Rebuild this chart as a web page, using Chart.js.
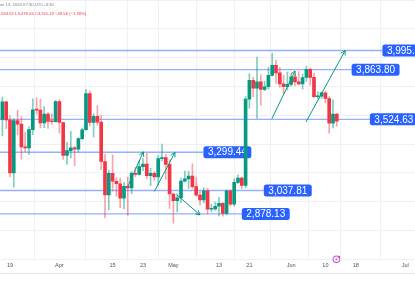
<!DOCTYPE html>
<html>
<head>
<meta charset="utf-8">
<script src="https://cdn.jsdelivr.net/npm/chart.js"></script>
<style>
  html, body { margin: 0; padding: 0; background: #fff; }
  #wrap { width: 415px; height: 285px; position: relative; }
</style>
</head>
<body>
<div id="wrap"><canvas id="ethChart"></canvas></div>
<script>
// daily candles, Mar 17 - Jun 13 2024
const dates = [
  '2024-03-17','2024-03-18','2024-03-19','2024-03-20','2024-03-21','2024-03-22','2024-03-23','2024-03-24','2024-03-25','2024-03-26',
  '2024-03-27','2024-03-28','2024-03-29','2024-03-30','2024-03-31','2024-04-01','2024-04-02','2024-04-03','2024-04-04','2024-04-05',
  '2024-04-06','2024-04-07','2024-04-08','2024-04-09','2024-04-10','2024-04-11','2024-04-12','2024-04-13','2024-04-14','2024-04-15',
  '2024-04-16','2024-04-17','2024-04-18','2024-04-19','2024-04-20','2024-04-21','2024-04-22','2024-04-23','2024-04-24','2024-04-25',
  '2024-04-26','2024-04-27','2024-04-28','2024-04-29','2024-04-30','2024-05-01','2024-05-02','2024-05-03','2024-05-04','2024-05-05',
  '2024-05-06','2024-05-07','2024-05-08','2024-05-09','2024-05-10','2024-05-11','2024-05-12','2024-05-13','2024-05-14','2024-05-15',
  '2024-05-16','2024-05-17','2024-05-18','2024-05-19','2024-05-20','2024-05-21','2024-05-22','2024-05-23','2024-05-24','2024-05-25',
  '2024-05-26','2024-05-27','2024-05-28','2024-05-29','2024-05-30','2024-05-31','2024-06-01','2024-06-02','2024-06-03','2024-06-04',
  '2024-06-05','2024-06-06','2024-06-07','2024-06-08','2024-06-09','2024-06-10','2024-06-11','2024-06-12','2024-06-13'
];
const opens = [
  3523,3644,3520,3158,3516,3492,3336,3329,3454,3590, 3587,3500,3561,3510,3508,3646,3503,3278,3311,3330,
  3320,3393,3453,3700,3503,3545,3505,3236,3008,3156, 3101,3084,2985,3066,3056,3155,3147,3201,3219,3140,
  3156,3131,3256,3263,3216,3014,2969,2988,3102,3117, 3137,3064,3006,2973,3036,2910,2912,2930,2950,2881,
  3035,2945,3094,3123,3072,3663,3791,3737,3780,3728, 3747,3825,3893,3842,3767,3747,3763,3815,3780,3767,
  3810,3866,3811,3679,3683,3706,3667,3498,3560.75
];
const highs = [
  3677,3645,3550,3530,3588,3543,3434,3474,3665,3673, 3663,3611,3570,3564,3654,3660,3505,3367,3442,3340,
  3400,3465,3730,3720,3562,3618,3553,3286,3175,3282, 3126,3123,3094,3129,3167,3196,3240,3256,3292,3190,
  3167,3276,3355,3285,3250,3021,3016,3123,3170,3171, 3220,3130,3030,3057,3053,2945,2958,2992,2956,3040,
  3042,3117,3145,3129,3680,3836,3812,3950,3830,3785, 3880,3975,3930,3880,3825,3847,3834,3836,3850,3833,
  3888,3877,3840,3712,3711,3718,3680,3657,3563.62
];
const lows = [
  3411,3460,3130,3060,3418,3252,3303,3285,3420,3560, 3465,3467,3462,3490,3505,3430,3250,3217,3261,3208,
  3302,3385,3450,3480,3405,3484,3180,2850,2906,3035, 2999,2920,2913,2868,3016,3132,3142,3174,3118,3071,
  3106,3075,3240,3113,2916,2815,2892,2955,3097,3053, 3049,3001,2938,2953,2877,2893,2902,2864,2862,2871,
  2933,2930,3085,3050,3057,3600,3680,3530,3622,3720, 3730,3820,3772,3742,3702,3726,3753,3752,3759,3730,
  3783,3760,3670,3665,3667,3637,3430,3466,3478.05
];
const closes = [
  3644,3520,3158,3516,3492,3336,3329,3454,3590,3587, 3500,3561,3510,3508,3646,3503,3278,3311,3330,3320,
  3393,3453,3700,3503,3545,3505,3236,3008,3156,3101, 3084,2985,3066,3056,3155,3147,3201,3219,3140,3156,
  3131,3256,3263,3216,3014,2969,2988,3102,3117,3137, 3064,3006,2973,3036,2910,2912,2930,2950,2881,3035,
  2945,3094,3123,3072,3663,3791,3737,3780,3728,3747, 3825,3893,3842,3767,3747,3763,3815,3780,3767,3810,
  3866,3811,3679,3683,3706,3667,3498,3560.75,3511.19
];

const tickDates = ['2024-03-19','2024-04-01','2024-04-15','2024-04-23','2024-05-01','2024-05-13','2024-05-21','2024-06-01','2024-06-10','2024-06-18','2024-07-01'];
const tickLabels = ['19','Apr','15','23','May','13','21','Jun','10','18','Jul'];

// horizontal levels; label anchor in days after Mar 19
const levelPrices = [3995.00, 3863.80, 3524.63, 3299.44, 3037.81, 2878.13];
const levelTexts = ['3,995.00','3,863.80','3,524.63','3,299.44','3,037.81','2,878.13'];
const levelLabelDays = [98.0, 89.9, 94.7, 50.9, 66.8, 61.0];

// projection arrows (days after Mar 19, price)
const arrowFromDay = [31.0, 38.0, 43.9, 68.9, 77.9];
const arrowFromPrice = [3066, 3032, 3009, 3528, 3506];
const arrowToDay = [35.1, 43.4, 50.0, 75.0, 88.2];
const arrowToPrice = [3302, 3298, 2871, 3855, 3995];

const headerDate = 'Jun 13, 2024 07:30 UTC+3:30';
const headerOhlc = 'H3,563.62 L3,478.05 C3,511.19 \u221249.56 (\u22121.39%)';

const DAY0 = Date.UTC(2024, 2, 19);
function dayOf(s) { return (Date.parse(s + 'T00:00:00Z') - DAY0) / 864e5; }

const xMin = -2.63, xMax = 106.58;
const GREEN = '#089981', RED = '#f23645';
const FONT = '"Liberation Sans", Arial, sans-serif';

const dayX = dates.map(dayOf);
const isUp = closes.map((c, i) => c >= opens[i]);

const datasets = [];
datasets.push({
  type: 'bar', order: 1, grouped: false, barThickness: 3, minBarLength: 1,
  data: dayX.map((x, i) => ({ x: x, y: [opens[i], closes[i]] })),
  backgroundColor: isUp.map(u => u ? GREEN : RED), borderWidth: 0
});
datasets.push({
  type: 'bar', order: 2, grouped: false, barThickness: 1,
  data: dayX.map((x, i) => ({ x: x, y: [lows[i], highs[i]] })),
  backgroundColor: isUp.map(u => u ? 'rgba(8,153,129,0.5)' : 'rgba(242,54,69,0.45)'), borderWidth: 0
});
levelPrices.forEach((p, i) => {
  datasets.push({
    type: 'line', order: 3,
    data: [{ x: xMin, y: p }, { x: levelLabelDays[i], y: p }],
    borderColor: 'rgba(41,98,255,0.5)', borderWidth: 1.3, pointRadius: 0
  });
});
arrowFromDay.forEach((d, i) => {
  datasets.push({
    type: 'line', order: 0,
    data: [{ x: d, y: arrowFromPrice[i] }, { x: arrowToDay[i], y: arrowToPrice[i] }],
    borderColor: GREEN, borderWidth: 1, pointRadius: 0
  });
});

function roundRect(ctx, x, y, w, h, r) {
  ctx.beginPath();
  ctx.moveTo(x + r, y);
  ctx.lineTo(x + w - r, y); ctx.quadraticCurveTo(x + w, y, x + w, y + r);
  ctx.lineTo(x + w, y + h - r); ctx.quadraticCurveTo(x + w, y + h, x + w - r, y + h);
  ctx.lineTo(x + r, y + h); ctx.quadraticCurveTo(x, y + h, x, y + h - r);
  ctx.lineTo(x, y + r); ctx.quadraticCurveTo(x, y, x + r, y);
  ctx.closePath();
}

const levelLabels = {
  id: 'levelLabels',
  beforeDatasetsDraw(chart) {
    const { ctx, scales: { x, y } } = chart;
    ctx.save();
    ctx.font = '10px ' + FONT;
    ctx.textBaseline = 'middle';
    levelPrices.forEach((p, i) => {
      const px = x.getPixelForValue(levelLabelDays[i]);
      const py = y.getPixelForValue(p);
      const w = ctx.measureText(levelTexts[i]).width + 9;
      ctx.fillStyle = '#2962ff';
      roundRect(ctx, px, py - 6, w, 12, 2.5);
      ctx.fill();
      ctx.fillStyle = '#ffffff';
      ctx.fillText(levelTexts[i], px + 4.5, py + 0.5);
    });
    ctx.restore();
  }
};

const extras = {
  id: 'extras',
  afterDraw(chart) {
    const { ctx, scales: { x, y } } = chart;
    ctx.save();
    // arrow heads
    ctx.strokeStyle = GREEN;
    ctx.lineWidth = 1;
    arrowFromDay.forEach((d, i) => {
      const x0 = x.getPixelForValue(d), y0 = y.getPixelForValue(arrowFromPrice[i]);
      const x1 = x.getPixelForValue(arrowToDay[i]), y1 = y.getPixelForValue(arrowToPrice[i]);
      const a = Math.atan2(y1 - y0, x1 - x0);
      const L = 5, t = 0.5;
      ctx.beginPath();
      ctx.moveTo(x1 - L * Math.cos(a - t), y1 - L * Math.sin(a - t));
      ctx.lineTo(x1, y1);
      ctx.lineTo(x1 - L * Math.cos(a + t), y1 - L * Math.sin(a + t));
      ctx.stroke();
    });
    // header legend
    ctx.font = '4.2px ' + FONT;
    ctx.textBaseline = 'middle';
    ctx.fillStyle = '#787b86';
    ctx.fillText(headerDate, -2.3, 5);
    ctx.fillStyle = RED;
    ctx.fillText(headerOhlc, -5.4, 14);
    // bottom separator
    ctx.strokeStyle = '#e0e3eb';
    ctx.beginPath();
    ctx.moveTo(0, 273.5); ctx.lineTo(415, 273.5);
    ctx.stroke();
    // event marker on last bar
    const mx = x.getPixelForValue(dayX[dayX.length - 1]) - 0.4;
    const my = 259.3;
    ctx.strokeStyle = '#c95ce6';
    ctx.lineWidth = 1.1;
    ctx.beginPath(); ctx.arc(mx, my, 3.3, 0, Math.PI * 2); ctx.stroke();
    ctx.beginPath(); ctx.moveTo(mx + 0.8, my - 1.8); ctx.lineTo(mx - 0.8, my + 0.2); ctx.lineTo(mx + 0.8, my + 0.2); ctx.lineTo(mx - 0.8, my + 1.9); ctx.lineWidth = 0.7; ctx.stroke();
    ctx.fillStyle = '#f23645';
    ctx.beginPath(); ctx.arc(mx + 2.6, my - 2.6, 1, 0, Math.PI * 2); ctx.fill();
    ctx.restore();
  }
};

new Chart(document.getElementById('ethChart'), {
  type: 'bar',
  data: { datasets: datasets },
  options: {
    responsive: true,
    maintainAspectRatio: false,
    animation: false,
    layout: { padding: { left: 0, right: 0, top: 0, bottom: 13 } },
    plugins: { legend: { display: false }, tooltip: { enabled: false } },
    scales: {
      x: {
        type: 'linear', min: xMin, max: xMax, offset: false,
        afterBuildTicks: s => { s.ticks = tickDates.map(d => ({ value: dayOf(d) })); },
        ticks: {
          autoSkip: false, maxRotation: 0, padding: 3, color: '#50535e',
          font: { size: 5.5, family: FONT },
          callback: (v, i) => tickLabels[i]
        },
        grid: { color: '#f0f1f4', drawTicks: false },
        border: { display: false }
      },
      y: {
        min: 2567, max: 4340,
        ticks: { display: false, stepSize: 200, includeBounds: false },
        grid: { color: '#f0f1f4', drawTicks: false },
        border: { display: false }
      }
    }
  },
  plugins: [levelLabels, extras]
});
</script>
</body>
</html>
